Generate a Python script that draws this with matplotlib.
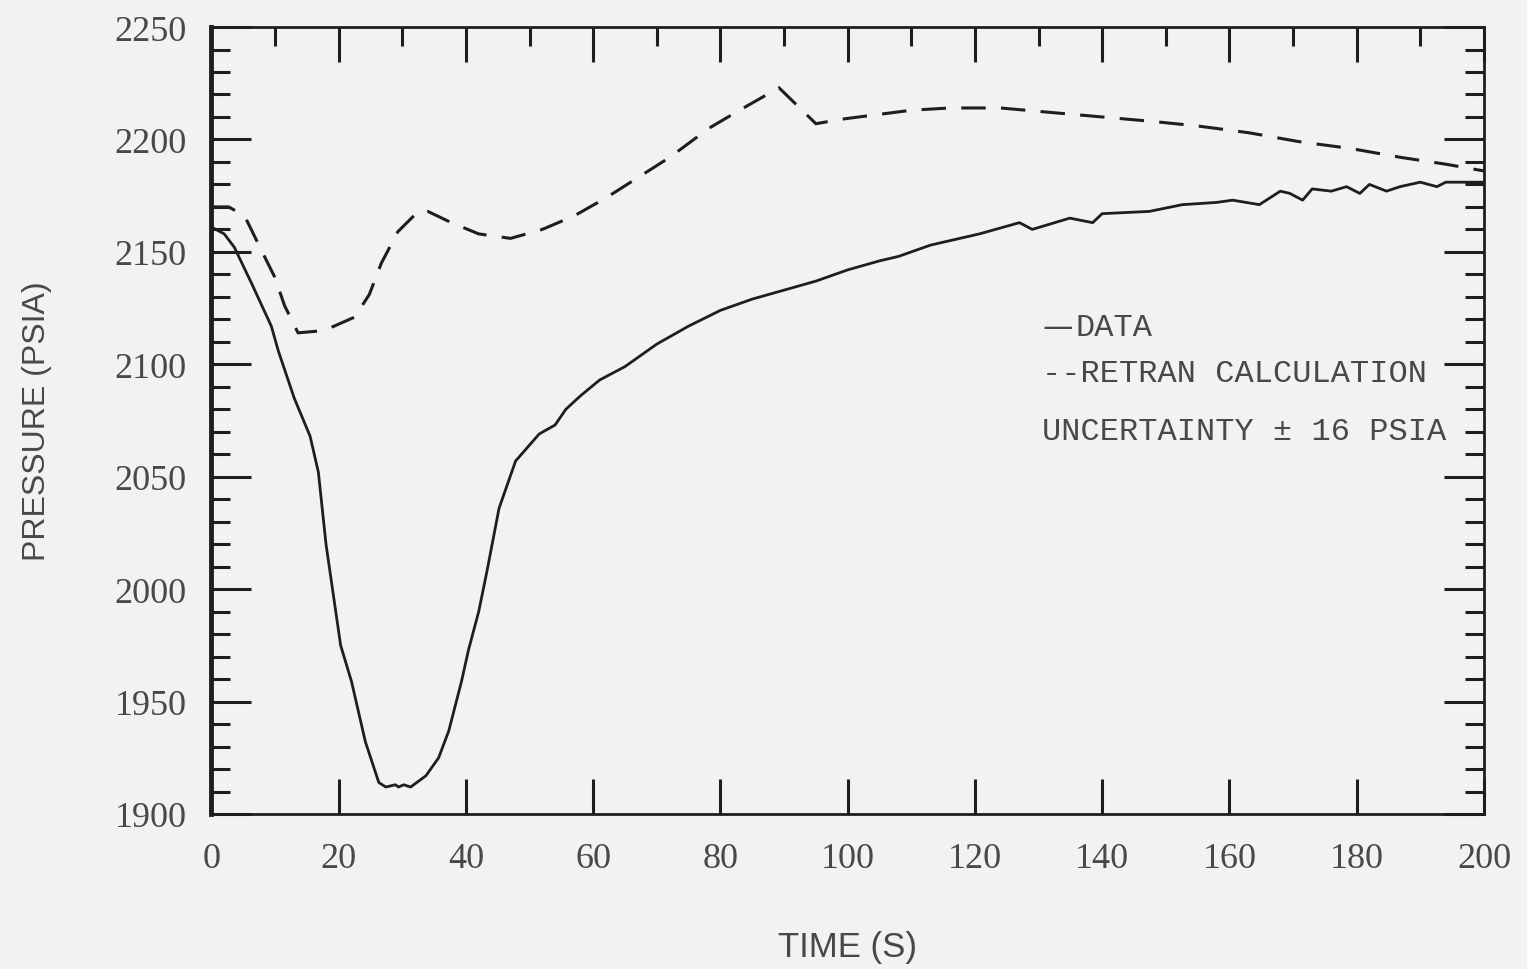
import matplotlib.pyplot as plt
from matplotlib.ticker import MultipleLocator

# measured pressure (solid line)
data_t = [0, 2, 3.6, 6.3, 9.4, 10.5, 13, 15.5, 16.8, 18, 20.3, 22, 24.2, 26.3, 27.4,
          28.9, 29.4, 30.2, 31.3, 33.7, 35.7, 37.3, 39.3, 40.4, 42, 43.3, 45.2,
          47.8, 51.5, 54, 55.7, 58, 61, 65, 70, 75, 80, 85, 90, 95, 100, 105, 108, 113,
          120.7, 127, 129, 134.9, 138.5, 140, 147.4, 152.6, 158, 160.5, 164.7,
          168, 169.5, 171.5, 173, 176, 178.4, 180.5, 182, 184.7, 186.8, 190,
          192.6, 194, 200]
data_p = [2161, 2158, 2152, 2136, 2117, 2106, 2085, 2068, 2052, 2020, 1975, 1959, 1932,
          1914, 1912, 1913, 1912, 1913, 1912, 1917, 1925, 1937, 1959, 1973, 1990,
          2008, 2036, 2057, 2069, 2073, 2080, 2086, 2093, 2099, 2109, 2117, 2124, 2129, 2133,
          2137, 2142, 2146, 2148, 2153, 2158, 2163, 2160, 2165, 2163, 2167, 2168,
          2171, 2172, 2173, 2171, 2177, 2176, 2173, 2178, 2177, 2179, 2176, 2180,
          2177, 2179, 2181, 2179, 2181, 2181]

# RETRAN calculation (dashed line)
calc_t = [0, 2.7, 5.2, 7.8, 9.9, 11.5, 13.6, 17.7, 22.5, 24.8, 26.7, 29.3, 32.5,
          34, 37.7, 42, 47, 52, 57, 62, 67, 72, 78.2, 83, 89.2, 95, 99, 104.5,
          110, 116, 124, 132, 140, 148, 155, 163, 171, 179, 187, 194, 200]
calc_p = [2170, 2170, 2166, 2151, 2139, 2126, 2114, 2115, 2121, 2131, 2145, 2159,
          2168, 2168, 2163, 2158, 2156, 2160, 2166, 2174, 2183, 2192, 2205, 2213,
          2223, 2207, 2209, 2211, 2213, 2214, 2214, 2212, 2210, 2208, 2206, 2203,
          2199, 2196, 2192, 2189, 2186]

bg = '#f2f2f0'
ink = '#1e1e1e'
txt = '#484848'

fig = plt.figure(figsize=(15.27, 9.70), dpi=100, facecolor=bg)
ax = fig.add_axes([0.1385, 0.1598, 0.8333, 0.8113], facecolor=bg)

ax.plot(data_t, data_p, color=ink, lw=2.0)
ax.plot(calc_t, calc_p, color=ink, lw=2.2, dashes=(8, 5))

ax.set_xlim(0, 200)
ax.set_ylim(1900, 2250)

ax.xaxis.set_major_locator(MultipleLocator(20))
ax.xaxis.set_minor_locator(MultipleLocator(10))
ax.yaxis.set_major_locator(MultipleLocator(50))
ax.yaxis.set_minor_locator(MultipleLocator(10))

ax.tick_params(which='major', direction='in', top=True, right=True,
               length=25, width=2.2, color=ink, labelsize=26,
               labelcolor=txt)
ax.tick_params(which='minor', direction='in', top=True, right=True,
               bottom=False, length=14, width=2.2, color=ink)
ax.tick_params(axis='x', which='major', pad=20)
ax.tick_params(axis='y', which='major', pad=18, length=29)

for lab in ax.get_xticklabels() + ax.get_yticklabels():
    lab.set_family(['Liberation Serif', 'DejaVu Serif'])

for side in ['top', 'bottom', 'right']:
    ax.spines[side].set_linewidth(2.0)
    ax.spines[side].set_color(ink)
ax.spines['left'].set_linewidth(3.5)
ax.spines['left'].set_color(ink)

lab_font = ['Liberation Sans Narrow', 'Liberation Sans', 'DejaVu Sans']
ax.set_xlabel('TIME (S)', fontsize=25, color=txt, family=lab_font, labelpad=40)
ax.set_ylabel('PRESSURE (PSIA)', fontsize=23, color=txt, family=lab_font,
              labelpad=45)

leg_font = ['Liberation Mono', 'DejaVu Sans Mono']
ax.text(0.653, 0.619, '\u2014', transform=ax.transAxes, fontsize=22,
        color=txt, family=['DejaVu Sans'], va='center')
ax.text(0.679, 0.619, 'DATA', transform=ax.transAxes, fontsize=23,
        color=txt, family=leg_font, va='center')
ax.text(0.653, 0.561, '--RETRAN CALCULATION', transform=ax.transAxes,
        fontsize=23, color=txt, family=leg_font, va='center')
ax.text(0.653, 0.487, 'UNCERTAINTY \u00b1 16 PSIA', transform=ax.transAxes,
        fontsize=23, color=txt, family=leg_font, va='center')

fig.savefig('out.png', dpi=100, facecolor=bg)
